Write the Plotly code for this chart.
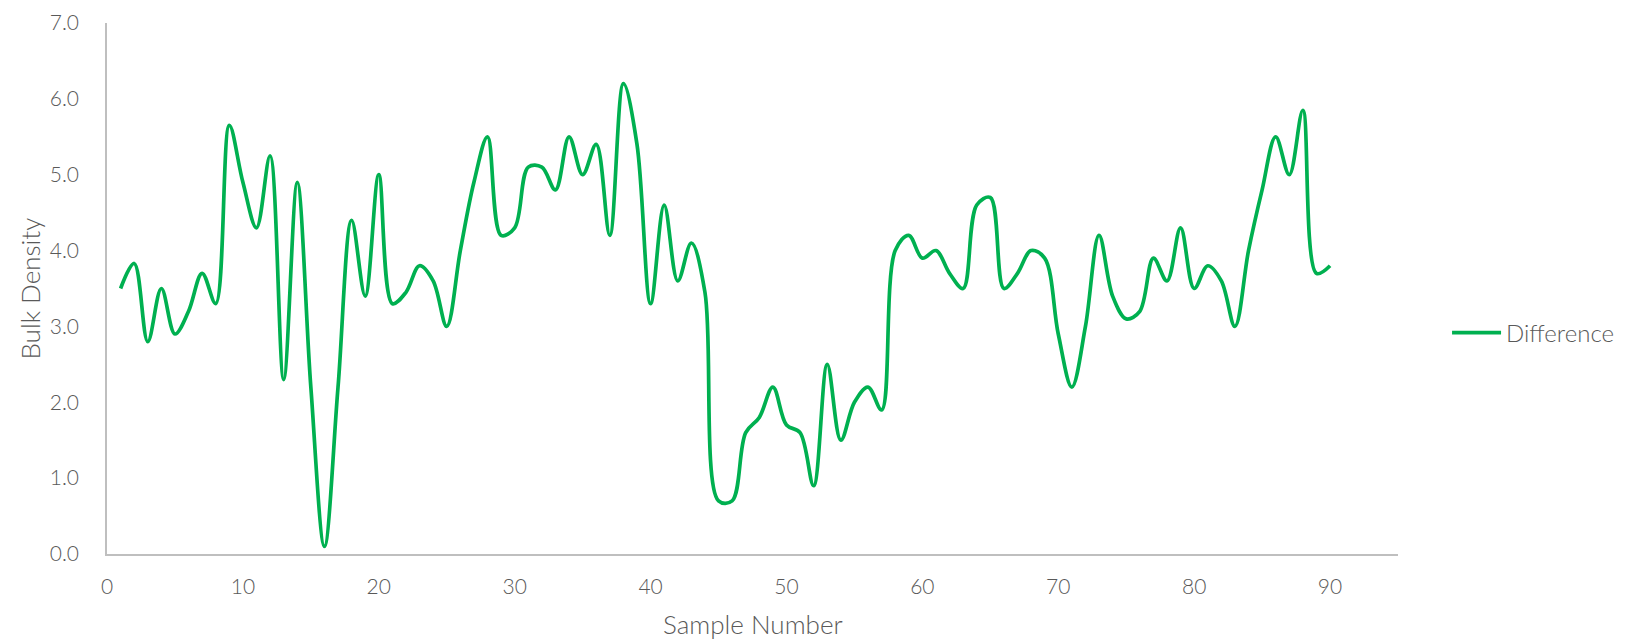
import plotly.graph_objects as go

sample_number = list(range(1, 91))
difference = [
    3.5, 3.83, 2.8, 3.5, 2.9, 3.2, 3.7, 3.3, 5.65, 4.9,
    4.3, 5.25, 2.3, 4.9, 2.2, 0.1, 2.2, 4.4, 3.4, 5.0,
    3.3, 3.45, 3.8, 3.6, 3.0, 4.0, 4.9, 5.5, 4.2, 4.3,
    5.1, 5.1, 4.8, 5.5, 5.0, 5.4, 4.2, 6.2, 5.4, 3.3,
    4.6, 3.6, 4.1, 3.45, 0.7, 0.7, 1.6, 1.8, 2.2, 1.7,
    1.6, 0.9, 2.5, 1.5, 2.0, 2.2, 1.9, 4.0, 4.2, 3.9,
    4.0, 3.7, 3.5, 4.6, 4.7, 3.5, 3.7, 4.0, 3.9, 2.9,
    2.2, 3.0, 4.2, 3.4, 3.1, 3.2, 3.9, 3.6, 4.3, 3.5,
    3.8, 3.6, 3.0, 4.0, 4.8, 5.5, 5.0, 5.85, 3.7, 3.8,
]
x_ticks = [0, 10, 20, 30, 40, 50, 60, 70, 80, 90]
y_ticks = [0, 1, 2, 3, 4, 5, 6, 7]

FONT = "Lato"
GREY = "#595959"

fig = go.Figure()
fig.add_trace(go.Scatter(
    x=sample_number, y=difference, mode="lines", name="Difference",
    line=dict(color="#00B050", width=3.7, shape="spline", smoothing=1.0),
))

fig.update_layout(
    width=1640, height=640,
    margin=dict(l=99, r=250, t=15, b=94),
    paper_bgcolor="white", plot_bgcolor="white",
    font=dict(family=FONT, color=GREY, size=20, weight=300),
    showlegend=True,
    legend=dict(x=1.038, y=0.416, xanchor="left", yanchor="middle",
                itemwidth=49,
                font=dict(size=24, color=GREY, weight=300), bgcolor="rgba(0,0,0,0)"),
    xaxis=dict(
        range=[0, 95], tickvals=x_ticks, showgrid=False, zeroline=False,
        showline=True, linecolor="#BFBFBF", linewidth=1.5, ticks="",
        automargin=False, ticklabelstandoff=13,
        tickfont=dict(size=21, color=GREY, weight=300),
    ),
    yaxis=dict(
        range=[0, 7], tickvals=y_ticks, tickformat=".1f", showgrid=False,
        zeroline=False, showline=True, linecolor="#BFBFBF", linewidth=1.5,
        ticks="", automargin=False, ticklabelstandoff=22,
        tickfont=dict(size=21, color=GREY, weight=300),
    ),
    annotations=[
        dict(text="Sample Number", xref="paper", yref="paper", x=0.5, y=0,
             yshift=-70, xanchor="center", yanchor="middle", showarrow=False,
             font=dict(size=26, color=GREY, family=FONT, weight=300)),
        dict(text="Bulk Density", xref="paper", yref="paper", x=0, y=0.5,
             xshift=-78, xanchor="center", yanchor="middle", showarrow=False,
             textangle=-90, font=dict(size=26, color=GREY, family=FONT, weight=300)),
    ],
)

fig.write_html("out.html")
